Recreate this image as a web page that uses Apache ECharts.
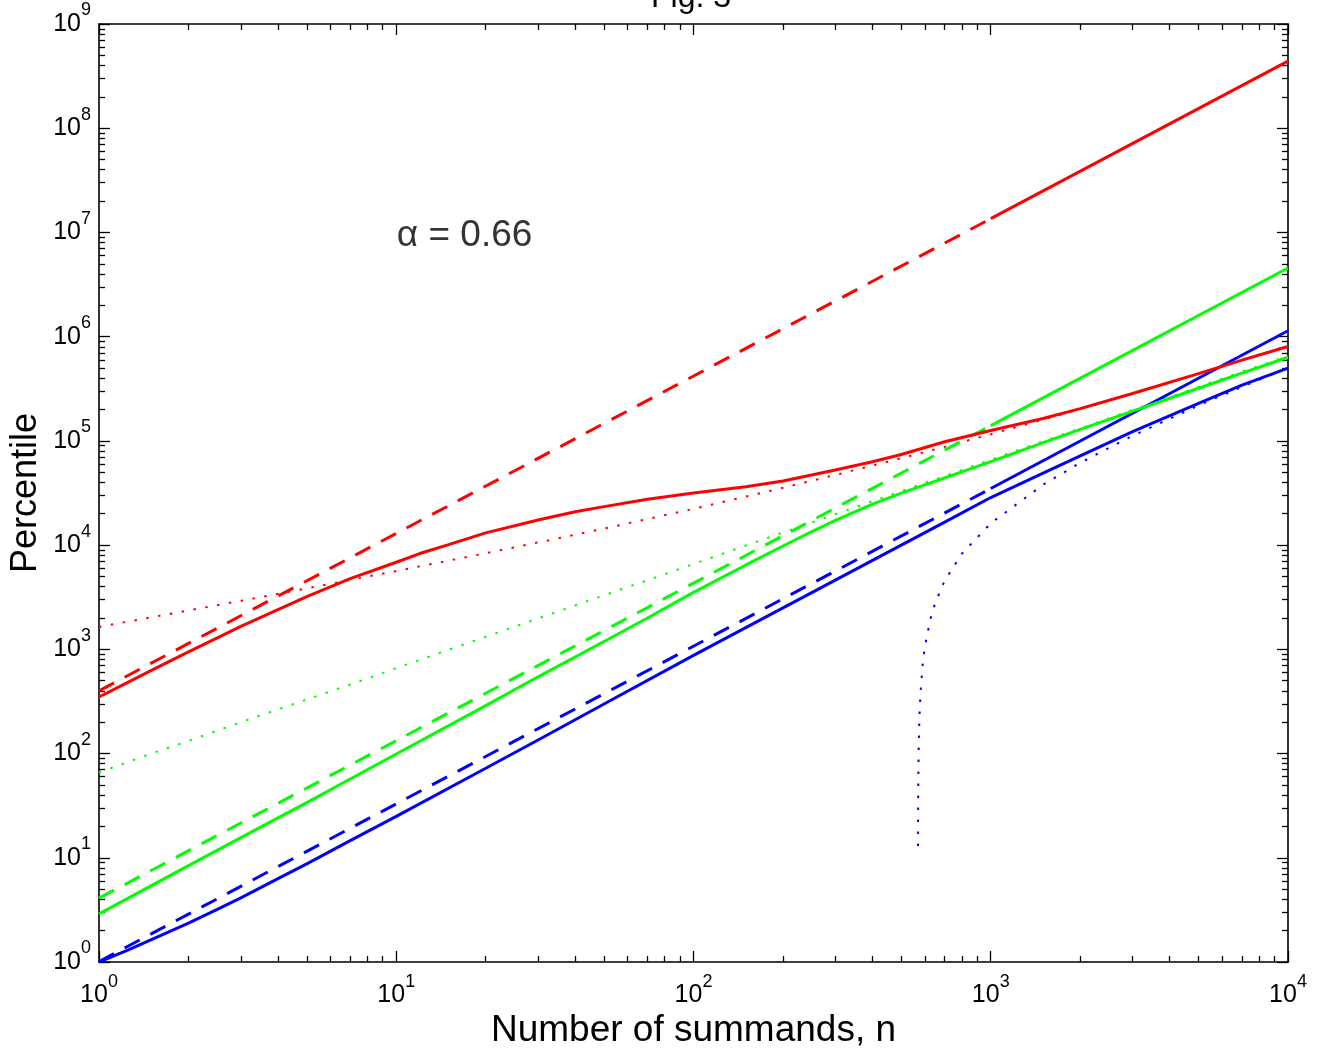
<!DOCTYPE html>
<html><head><meta charset="utf-8">
<script src="https://cdn.jsdelivr.net/npm/echarts@6/dist/echarts.min.js"></script>
<style>html,body{margin:0;padding:0;background:#fff}#c{width:1323px;height:1057px}</style>
</head><body><div id="c"></div>
<script>
const FONT = '"Liberation Sans", Arial, Helvetica, sans-serif';

// tick labels / tick positions
const xMajor = [1, 10, 100, 1000, 10000];
const yMajor = [1, 10, 100, 1e3, 1e4, 1e5, 1e6, 1e7, 1e8, 1e9];
const minorMult = [2, 3, 4, 5, 6, 7, 8, 9];

// straight asymptotes (dashed up to n=1000, solid afterwards)
const nAsym = [1, 1000, 10000];
const redAsym = [400, 13550000, 440000000];
const greenAsym = [4.1, 140000, 4560000];
const blueAsym = [1.01, 34900, 1140000];

// dotted approximations
const nNormal = [1, 1.5, 2, 3, 5, 7, 10, 15, 20, 30, 50, 70, 100, 150, 200, 300, 500, 700, 1000, 1500, 2000, 3000, 5000, 7000, 10000];
const redNormal = [1640, 2030, 2360, 2920, 3850, 4630, 5640, 7090, 8360, 10600, 14400, 17800, 22300, 29200, 35500, 47100, 68200, 87800, 116000, 160000, 202000, 284000, 441000, 594000, 817000];
const greenNormal = [66, 100, 132, 200, 330, 460, 660, 990, 1320, 1980, 3300, 4600, 6600, 9900, 13200, 19800, 33000, 46000, 66000, 99000, 132000, 198000, 330000, 460000, 655000];
const nBlueNormal = [569.3, 570, 572, 575, 580, 590, 600, 625, 650, 700, 800, 1000, 1500, 2000, 3000, 5000, 7000, 10000];
const blueNormal = [13, 41, 107, 207, 373, 708, 1045, 1900, 2770, 4560, 8280, 16200, 38000, 61600, 112000, 219000, 330000, 503000];

// solid percentile curves
const nRed = [1, 1.25, 1.5, 2, 2.5, 3, 4, 5, 7, 10, 12, 15, 20, 30, 40, 50, 70, 100, 150, 200, 300, 400, 500, 700, 1000, 1500, 2000, 3000, 5000, 7000, 10000];
const redExact = [349, 482, 627, 946, 1288, 1660, 2400, 3210, 4760, 6850, 8300, 10100, 13100, 17400, 20900, 23400, 27500, 31600, 36300, 41200, 52500, 63000, 74000, 98000, 126000, 164000, 204000, 285000, 442000, 596000, 804000];
const nGreen = [1, 2, 3, 5, 7, 10, 20, 30, 50, 70, 100, 150, 200, 250, 300, 400, 500, 700, 1000, 1500, 2000, 3000, 5000, 7000, 10000];
const greenExact = [2.9, 8.4, 15.6, 33.8, 57, 99, 288, 545, 1190, 2000, 3520, 6450, 9800, 13500, 17300, 24700, 31500, 44200, 63300, 96300, 129000, 193000, 320000, 447000, 634000];
const nBlue = [1, 1.25, 1.5, 2, 2.5, 3, 4, 5, 7, 10, 20, 30, 50, 100, 200, 300, 500, 700, 1000, 1500, 2000, 3000, 5000, 7000, 10000];
const blueExact = [1.0, 1.3, 1.64, 2.36, 3.2, 4.13, 6.3, 8.75, 14.6, 25.0, 72.3, 135, 299, 875, 2500, 4620, 10000, 16600, 28600, 49000, 71800, 123000, 229000, 343000, 500000];

const alphaText = 'α = 0.66';
const alphaPos = [10, 1e7];
const titleText = 'Fig. 3';
const xName = 'Number of summands, n';
const yName = 'Percentile';

function minorOf(major) {
  const out = [];
  for (let i = 0; i < major.length - 1; i++) minorMult.forEach(m => out.push(major[i] * m));
  return out;
}
const xMinor = minorOf(xMajor);
const yMinor = minorOf(yMajor);
const pairs = (xs, ys) => xs.map((x, i) => [x, ys[i]]);

const RED = '#ff0000', GREEN = '#00ff00', BLUE = '#0000ff';
const W = 3;
const DASH = [17, 12];
const DOT = [2.5, 9.5];

function line(data, color, type, width) {
  return {
    type: 'line', data: data, xAxisIndex: 0, yAxisIndex: 0,
    showSymbol: false, symbol: 'none', smooth: false, silent: true,
    lineStyle: { color: color, width: width, type: type, cap: 'butt' },
    emphasis: { disabled: true }
  };
}

const labelRich = {
  b: { fontSize: 25, lineHeight: 45, fontFamily: FONT, color: '#000' },
  s: { fontSize: 18, lineHeight: 18, verticalAlign: 'top', fontFamily: FONT, color: '#000' }
};
const fmt = v => '{b|10}{s|' + Math.round(Math.log10(v)) + '}';
const axLine = { show: true, onZero: false, lineStyle: { color: '#000', width: 1.6 } };
const noLine = { show: false };
const tickStyle = { color: '#000', width: 1.3 };

function xAx(position, ticks, len, showLine, label, extra) {
  return Object.assign({
    type: 'log', logBase: 10, min: 1, max: 10000, gridIndex: 0, position: position,
    splitLine: { show: false }, minorTick: { show: false }, minorSplitLine: { show: false },
    axisLine: showLine ? axLine : noLine,
    axisTick: { show: true, inside: true, length: len, customValues: ticks, lineStyle: tickStyle },
    axisLabel: label ? label : { show: false },
    axisPointer: { show: false }
  }, extra || {});
}
function yAx(position, ticks, len, showLine, label, extra) {
  return Object.assign({
    type: 'log', logBase: 10, min: 1, max: 1e9, gridIndex: 0, position: position,
    splitLine: { show: false }, minorTick: { show: false }, minorSplitLine: { show: false },
    axisLine: showLine ? axLine : noLine,
    axisTick: { show: true, inside: true, length: len, customValues: ticks, lineStyle: tickStyle },
    axisLabel: label ? label : { show: false },
    axisPointer: { show: false }
  }, extra || {});
}

const chart = echarts.init(document.getElementById('c'), null, { renderer: 'canvas' });
chart.setOption({
  animation: false,
  backgroundColor: '#fff',
  title: {
    text: titleText, left: 651, top: -18, padding: 0,
    textStyle: { fontSize: 32, lineHeight: 32, fontWeight: 'normal', fontFamily: FONT, color: '#000' }
  },
  grid: { left: 99, right: 35, top: 24, bottom: 95, containLabel: false, outerBoundsMode: 'none' },
  xAxis: [
    xAx('bottom', xMajor, 11, true, {
      show: true, customValues: xMajor, formatter: fmt, rich: labelRich, margin: 11,
      fontSize: 25, fontFamily: FONT, color: '#000'
    }, {
      name: xName, nameLocation: 'middle', nameGap: 50, nameMoveOverlap: false,
      nameTextStyle: { fontSize: 37, lineHeight: 37, fontFamily: FONT, color: '#000' }
    }),
    xAx('bottom', xMinor, 6, false, null),
    xAx('top', xMajor, 11, true, null),
    xAx('top', xMinor, 6, false, null)
  ],
  yAxis: [
    yAx('left', yMajor, 11, true, {
      show: true, customValues: yMajor, formatter: fmt, rich: labelRich, margin: 8,
      fontSize: 25, fontFamily: FONT, color: '#000'
    }, {
      name: yName, nameLocation: 'middle', nameGap: 55, nameRotate: 90, nameMoveOverlap: false,
      nameTextStyle: { fontSize: 36, lineHeight: 36, fontFamily: FONT, color: '#000' }
    }),
    yAx('left', yMinor, 6, false, null),
    yAx('right', yMajor, 11, true, null),
    yAx('right', yMinor, 6, false, null)
  ],
  series: [
    line(pairs(nNormal, redNormal), RED, DOT, 2),
    line(pairs(nNormal, greenNormal), GREEN, DOT, 2),
    line(pairs(nBlueNormal, blueNormal), BLUE, DOT, 2),
    line(pairs(nAsym.slice(0, 2), redAsym.slice(0, 2)), RED, DASH, W),
    line(pairs(nAsym.slice(0, 2), greenAsym.slice(0, 2)), GREEN, DASH, W),
    line(pairs(nAsym.slice(0, 2), blueAsym.slice(0, 2)), BLUE, DASH, W),
    line(pairs(nAsym.slice(1), redAsym.slice(1)), RED, 'solid', W),
    line(pairs(nAsym.slice(1), greenAsym.slice(1)), GREEN, 'solid', W),
    line(pairs(nAsym.slice(1), blueAsym.slice(1)), BLUE, 'solid', W),
    line(pairs(nRed, redExact), RED, 'solid', W),
    line(pairs(nGreen, greenExact), GREEN, 'solid', W),
    line(pairs(nBlue, blueExact), BLUE, 'solid', W),
    {
      type: 'scatter', xAxisIndex: 0, yAxisIndex: 0, data: [alphaPos],
      symbolSize: 1, itemStyle: { color: 'rgba(0,0,0,0)' }, silent: true,
      label: { show: true, position: 'right', distance: 0, formatter: alphaText,
        fontSize: 37, fontFamily: FONT, color: '#000', offset: [0, 3] }
    }
  ]
});
</script>
</body></html>
